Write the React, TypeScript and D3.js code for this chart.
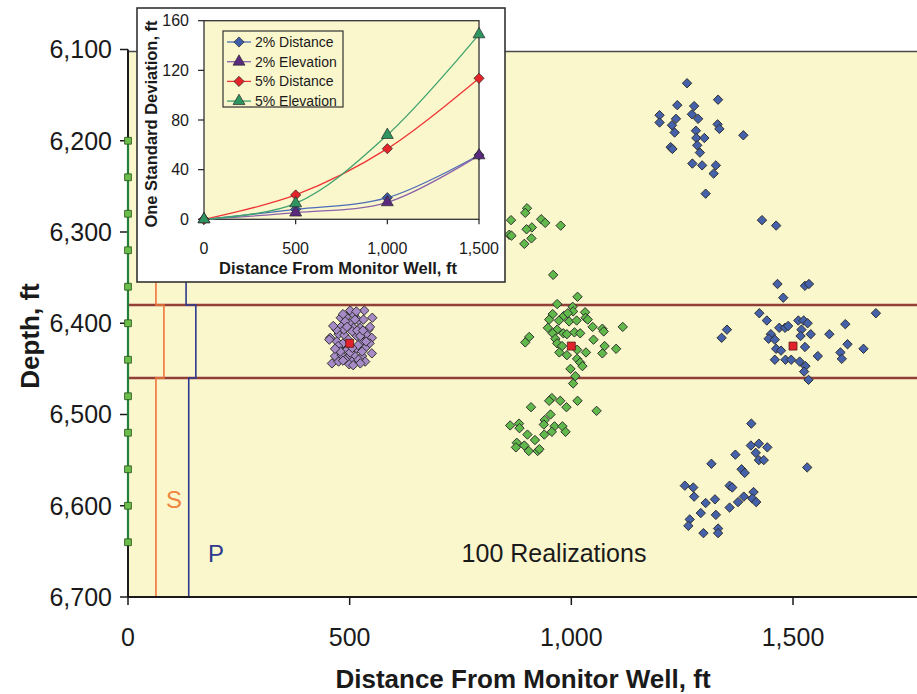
import React from "react";
import * as d3 from "d3";

// ---------- data ----------
// Scatter realizations: [distance ft, depth ft]
const realizations500: [number, number][] = [
  [501, 6386], [533, 6386], [551, 6394], [480, 6394], [492, 6393], [510, 6391], [520, 6397], [531, 6396],
  [501, 6400], [482, 6403], [509, 6405], [524, 6405], [542, 6407], [456, 6416], [475, 6412], [488, 6413],
  [516, 6414], [539, 6413], [550, 6416], [471, 6420], [485, 6422], [528, 6420], [545, 6422], [477, 6429],
  [494, 6429], [516, 6428], [535, 6427], [550, 6433], [467, 6436], [482, 6435], [497, 6437], [512, 6436],
  [528, 6436], [505, 6442], [535, 6442], [460, 6444], [475, 6442], [490, 6440], [520, 6440],
  [490, 6398], [506, 6409], [497, 6418], [519, 6424], [487, 6407], [528, 6431], [501, 6432], [474, 6425],
  [512, 6396], [494, 6404], [537, 6420], [479, 6431], [517, 6408], [506, 6427], [485, 6441], [524, 6444],
  [499, 6445], [470, 6407], [454, 6418], [463, 6403], [515, 6387], [485, 6390], [524, 6414], [467, 6428],
  [546, 6404], [508, 6446], [530, 6408],
];

const realizations1000: [number, number][] = [
  // upper group
  [900, 6274], [896, 6279], [864, 6287], [932, 6286], [941, 6290], [976, 6293], [911, 6295], [899, 6297],
  [860, 6303], [865, 6304], [910, 6307], [894, 6313], [959, 6347],
  // layer group
  [1014, 6371], [968, 6379], [1003, 6382], [1004, 6387], [958, 6390], [983, 6392], [992, 6389], [1031, 6388],
  [950, 6396], [972, 6397], [995, 6398], [1012, 6397], [1032, 6394], [1037, 6396], [1048, 6404], [947, 6405],
  [968, 6407], [982, 6411], [990, 6412], [1007, 6410], [1020, 6411], [1070, 6406], [1116, 6404], [1073, 6409],
  [905, 6415], [896, 6421], [958, 6411], [964, 6417], [968, 6422], [979, 6425], [1050, 6418], [1075, 6425],
  [1101, 6428], [973, 6432], [990, 6435], [1013, 6429], [1033, 6432], [1070, 6433], [1013, 6439], [1020, 6443],
  [1025, 6447], [998, 6450], [1009, 6458], [1004, 6466],
  // lower group
  [956, 6482], [950, 6485], [975, 6485], [989, 6492], [1014, 6485], [1057, 6496], [909, 6492], [953, 6500],
  [940, 6506], [938, 6511], [962, 6513], [980, 6513], [987, 6519], [956, 6519], [939, 6522], [862, 6512],
  [882, 6510], [883, 6515], [901, 6522], [918, 6528], [877, 6531], [875, 6536], [894, 6534], [904, 6540],
  [924, 6540], [928, 6538],
];

const realizations1500: [number, number][] = [
  // upper group
  [1261, 6137], [1331, 6155], [1239, 6161], [1277, 6162], [1199, 6172], [1199, 6180], [1236, 6176], [1272, 6171],
  [1286, 6176], [1227, 6183], [1233, 6191], [1330, 6182], [1334, 6187], [1281, 6189], [1282, 6197], [1300, 6197],
  [1388, 6194], [1224, 6207], [1228, 6209], [1284, 6205], [1290, 6213], [1273, 6225], [1295, 6227], [1326, 6227],
  [1321, 6236], [1303, 6258], [1430, 6287], [1462, 6293],
  // layer group
  [1465, 6357], [1527, 6359], [1536, 6357], [1478, 6372], [1424, 6389], [1687, 6389], [1441, 6397], [1512, 6397],
  [1524, 6397], [1533, 6400], [1469, 6405], [1482, 6405], [1489, 6403], [1618, 6401], [1351, 6407], [1339, 6416],
  [1450, 6412], [1519, 6407], [1540, 6412], [1445, 6417], [1459, 6418], [1517, 6414], [1582, 6412], [1623, 6423],
  [1462, 6428], [1473, 6430], [1527, 6426], [1556, 6436], [1607, 6432], [1659, 6428], [1459, 6440], [1483, 6440],
  [1496, 6440], [1515, 6442], [1528, 6447], [1525, 6453], [1535, 6462], [1610, 6439],
  // lower group
  [1406, 6510], [1405, 6534], [1423, 6532], [1442, 6536], [1416, 6542], [1423, 6550], [1434, 6550], [1370, 6544],
  [1316, 6554], [1384, 6560], [1391, 6564], [1532, 6558], [1256, 6578], [1275, 6580], [1277, 6590], [1303, 6597],
  [1324, 6593], [1357, 6578], [1363, 6580], [1389, 6590], [1376, 6596], [1411, 6585], [1408, 6592], [1417, 6596],
  [1292, 6608], [1326, 6610], [1357, 6602], [1267, 6615], [1264, 6622], [1298, 6630], [1331, 6625], [1331, 6630],
];

const trueSources: [number, number][] = [[500, 6422], [1000, 6425], [1500, 6425]];

// monitor well receivers
const receiverDepths = [6200, 6240, 6280, 6320, 6360, 6400, 6440, 6480, 6520, 6560, 6600, 6640];

// layer boundaries
const layerTop = 6380;
const layerBottom = 6460;

// S and P wave paths: [distance above, within, below layer]
const sPath = [63, 81, 63];
const pPath = [131, 153, 137];

const mainXTicks = [0, 500, 1000, 1500];
const mainYTicks = [6100, 6200, 6300, 6400, 6500, 6600, 6700];

// inset: standard deviation vs distance
const insetDistances = [0, 500, 1000, 1500];
const dist2 = [0, 8, 17.4, 51.8];
const elev2 = [0, 5.4, 13.7, 51.5];
const dist5 = [0, 19.6, 56.9, 113.6];
const elev5 = [0, 12.9, 67.9, 149];
const insetYTicks = [0, 40, 80, 120, 160];
const insetXTicks = [0, 500, 1000, 1500];

const insetSeries = [
  { name: "2% Distance", values: dist2, line: "#4B6CB7", fill: "#3E5CA8", marker: "diamond" },
  { name: "2% Elevation", values: elev2, line: "#8B63A8", fill: "#5A2A7E", marker: "triangle" },
  { name: "5% Distance", values: dist5, line: "#EE3535", fill: "#E42428", marker: "diamond" },
  { name: "5% Elevation", values: elev5, line: "#3FA36F", fill: "#2E9560", marker: "triangle" },
];

const FONT = "'Liberation Sans', Arial, sans-serif";
const fmt = d3.format(",");

const diamondPath = d3.symbol().type(d3.symbolSquare).size(44)() as string;
const insetDiamond = d3.symbol().type(d3.symbolSquare).size(52)() as string;
const trianglePath = d3.symbol().type(d3.symbolTriangle).size(62)() as string;
const squarePath = d3.symbol().type(d3.symbolSquare).size(64)() as string;
const receiverPath = d3.symbol().type(d3.symbolSquare).size(46)() as string;

export default function App() {
  const W = 917;
  const H = 694;

  const x = d3.scaleLinear().domain([0, 1800]).range([128, 926]);
  const y = d3.scaleLinear().domain([6100, 6700]).range([49.5, 597]);

  const plotTop = 51.5;
  const plotBottom = y(6700);
  const plotLeft = x(0);

  // step path for wave lines
  const wavePath = (p: number[]) => {
    const pts: [number, number][] = [
      [p[0], 6100], [p[0], layerTop], [p[1], layerTop], [p[1], layerBottom],
      [p[2], layerBottom], [p[2], 6700],
    ];
    return d3.line<[number, number]>().x((d) => x(d[0])).y((d) => y(d[1]))(pts) as string;
  };

  // inset scales
  const ix = d3.scaleLinear().domain([0, 1500]).range([204, 479]);
  const iy = d3.scaleLinear().domain([0, 160]).range([219.3, 20.7]);
  const insetLine = d3
    .line<number>()
    .x((_, i) => ix(insetDistances[i]))
    .y((v) => iy(v))
    .curve(d3.curveCatmullRom.alpha(0.5));

  const markerShape = (m: string) => (m === "diamond" ? insetDiamond : trianglePath);
  const markerRot = (m: string) => (m === "diamond" ? " rotate(45)" : "");

  const scatter = (data: [number, number][], fill: string, key: string) =>
    data.map((d, i) => (
      <path
        key={key + i}
        d={diamondPath}
        transform={`translate(${x(d[0])},${y(d[1])}) rotate(45)`}
        fill={fill}
        stroke="#2b2b2b"
        strokeWidth={0.9}
      />
    ));

  return (
    <svg
      width={W}
      height={H}
      style={{ position: "absolute", left: 0, top: 0, background: "#ffffff" }}
      fontFamily={FONT}
    >
      {/* main plot area */}
      <rect x={plotLeft} y={plotTop} width={W - plotLeft} height={plotBottom - plotTop} fill="#FBF7CD" />
      <line x1={plotLeft} x2={W} y1={plotTop} y2={plotTop} stroke="#4a4a4a" strokeWidth={1.5} />

      {/* layer boundaries */}
      {[layerTop, layerBottom].map((d) => (
        <g key={d}>
          <line x1={plotLeft} x2={W} y1={y(d)} y2={y(d)} stroke="#C9958A" strokeWidth={3.2} />
          <line x1={plotLeft} x2={W} y1={y(d)} y2={y(d)} stroke="#7E2418" strokeWidth={1.6} />
        </g>
      ))}

      {/* wave paths */}
      <path d={wavePath(sPath)} fill="none" stroke="#F0743A" strokeWidth={1.6} />
      <path d={wavePath(pPath)} fill="none" stroke="#2E3A8E" strokeWidth={1.6} />

      {/* realizations */}
      {scatter(realizations500, "#A68BC6", "p")}
      {scatter(realizations1000, "#60B94A", "g")}
      {scatter(realizations1500, "#4461A9", "b")}
      {trueSources.map((d, i) => (
        <path
          key={"t" + i}
          d={squarePath}
          transform={`translate(${x(d[0])},${y(d[1])})`}
          fill="#E1222A"
          stroke="#5a1a1a"
          strokeWidth={0.8}
        />
      ))}

      {/* axes */}
      <line x1={plotLeft} x2={plotLeft} y1={y(6100)} y2={plotBottom} stroke="#1a1a1a" strokeWidth={2} />
      <line x1={plotLeft} x2={W} y1={plotBottom} y2={plotBottom} stroke="#1a1a1a" strokeWidth={2} />
      {mainYTicks.map((t) => (
        <g key={"yt" + t}>
          <line x1={plotLeft - 8} x2={plotLeft} y1={y(t)} y2={y(t)} stroke="#1a1a1a" strokeWidth={1.5} />
          <text x={112} y={y(t)} dy="0.35em" textAnchor="end" fontSize={25} fill="#1a1a1a">
            {fmt(t)}
          </text>
        </g>
      ))}
      {mainXTicks.map((t) => (
        <g key={"xt" + t}>
          <line x1={x(t)} x2={x(t)} y1={plotBottom} y2={plotBottom + 8} stroke="#1a1a1a" strokeWidth={1.5} />
          <text x={x(t)} y={646} textAnchor="middle" fontSize={25} fill="#1a1a1a">
            {fmt(t)}
          </text>
        </g>
      ))}

      {/* monitor well with receivers */}
      <line
        x1={plotLeft}
        x2={plotLeft}
        y1={y(receiverDepths[0])}
        y2={y(receiverDepths[receiverDepths.length - 1])}
        stroke="#23803C"
        strokeWidth={2.2}
      />
      {receiverDepths.map((d) => (
        <path
          key={"r" + d}
          d={receiverPath}
          transform={`translate(${plotLeft},${y(d)})`}
          fill="#6CBE4B"
          stroke="#2F5E22"
          strokeWidth={0.9}
        />
      ))}

      {/* annotations */}
      <text x={174} y={508} textAnchor="middle" fontSize={24} fill="#F0843F">S</text>
      <text x={208} y={562} fontSize={24} fill="#2E3A8E">P</text>
      <text x={554} y={562} textAnchor="middle" fontSize={25} fill="#1a1a1a">100 Realizations</text>

      {/* axis titles */}
      <text x={523} y={688} textAnchor="middle" fontSize={26} fontWeight="bold" fill="#1a1a1a">
        Distance From Monitor Well, ft
      </text>
      <text
        transform="translate(39,336) rotate(-90)"
        textAnchor="middle"
        fontSize={26}
        fontWeight="bold"
        fill="#1a1a1a"
      >
        Depth, ft
      </text>

      {/* inset chart */}
      <g>
        <rect x={137} y={8} width={368} height={274} fill="#ffffff" stroke="#333" strokeWidth={1.6} />
        <rect
          x={ix(0)}
          y={iy(160)}
          width={ix(1500) - ix(0)}
          height={iy(0) - iy(160)}
          fill="#FBF7CD"
          stroke="#333"
          strokeWidth={1.3}
        />
        {insetYTicks.map((t) => (
          <g key={"iyt" + t}>
            <line x1={ix(0) - 6} x2={ix(0)} y1={iy(t)} y2={iy(t)} stroke="#222" strokeWidth={1.2} />
            <text x={189} y={iy(t)} dy="0.36em" textAnchor="end" fontSize={16} fill="#1a1a1a">
              {fmt(t)}
            </text>
          </g>
        ))}
        {insetXTicks.map((t) => (
          <g key={"ixt" + t}>
            <line x1={ix(t)} x2={ix(t)} y1={iy(0)} y2={iy(0) + 5} stroke="#222" strokeWidth={1.2} />
            <text x={ix(t)} y={254} textAnchor="middle" fontSize={16} fill="#1a1a1a">
              {fmt(t)}
            </text>
          </g>
        ))}
        <text x={338} y={274} textAnchor="middle" fontSize={16.5} fontWeight="bold" fill="#1a1a1a">
          Distance From Monitor Well, ft
        </text>
        <text
          transform="translate(157,124) rotate(-90)"
          textAnchor="middle"
          fontSize={16.5}
          fontWeight="bold"
          fill="#1a1a1a"
        >
          One Standard Deviation, ft
        </text>

        {insetSeries.map((s) => (
          <path key={"l" + s.name} d={insetLine(s.values) as string} fill="none" stroke={s.line} strokeWidth={1.3} />
        ))}
        {insetSeries.map((s) =>
          s.values.map((v, i) => (
            <path
              key={s.name + i}
              d={markerShape(s.marker)}
              transform={`translate(${ix(insetDistances[i])},${iy(v)})${markerRot(s.marker)}`}
              fill={s.fill}
              stroke="#2a2a2a"
              strokeWidth={0.7}
            />
          ))
        )}

        {/* legend */}
        <rect x={223} y={31} width={120} height={76} fill="none" stroke="#333" strokeWidth={1.2} />
        {insetSeries.map((s, i) => {
          const cy = 42 + i * 19.7;
          return (
            <g key={"lg" + s.name}>
              <line x1={227} x2={251} y1={cy} y2={cy} stroke={s.line} strokeWidth={1.3} />
              <path
                d={markerShape(s.marker)}
                transform={`translate(239,${cy})${markerRot(s.marker)}`}
                fill={s.fill}
                stroke="#2a2a2a"
                strokeWidth={0.7}
              />
              <text x={255} y={cy} dy="0.36em" fontSize={14} fill="#1a1a1a">
                {s.name}
              </text>
            </g>
          );
        })}
      </g>
    </svg>
  );
}
